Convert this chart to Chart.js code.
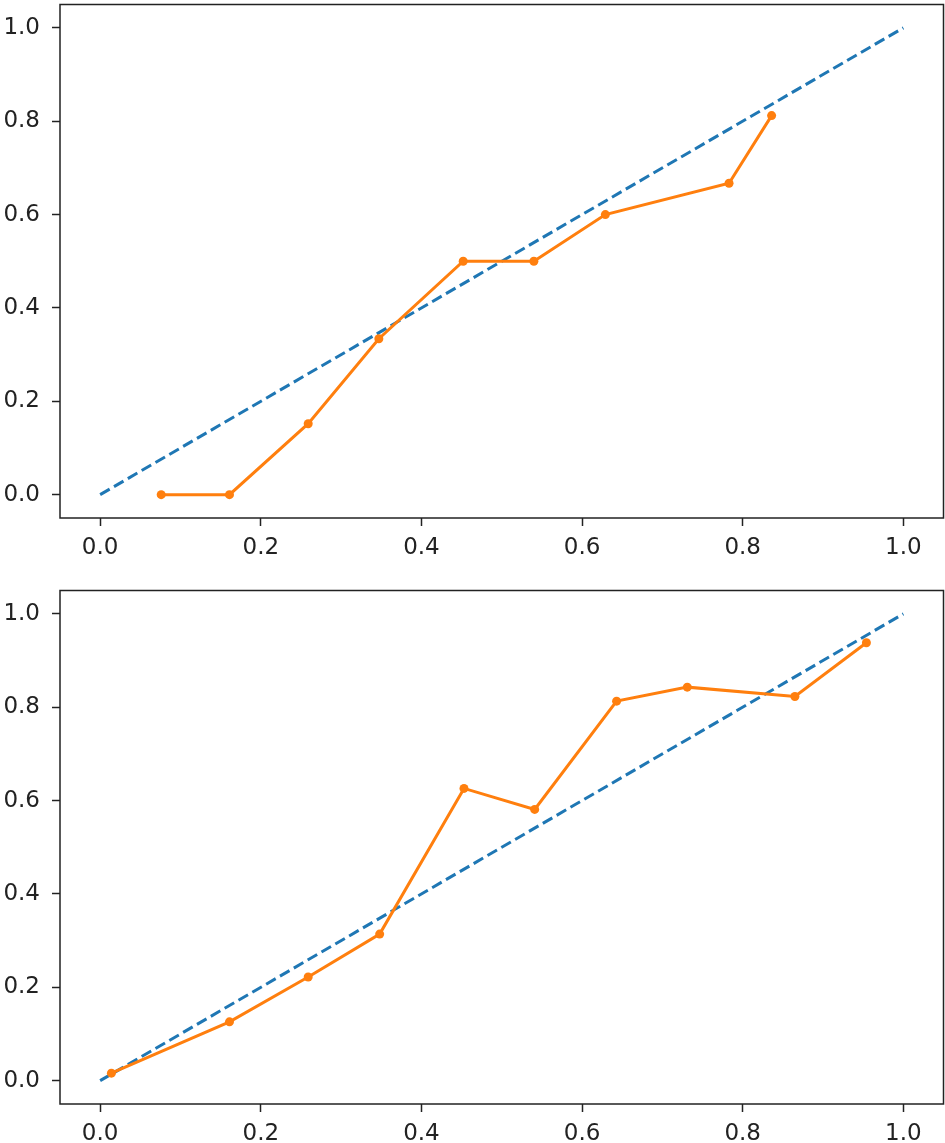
<!DOCTYPE html>
<html>
<head>
<meta charset="utf-8">
<script src="https://cdn.jsdelivr.net/npm/chart.js@4/dist/chart.umd.min.js"></script>
<style>
  html, body { margin: 0; padding: 0; background: #fff; }
  body { width: 945px; height: 1143px; position: relative; overflow: hidden; }
  canvas { position: absolute; left: 0; }
  #topChart { top: 0; }
  #bottomChart { top: 586px; }
</style>
</head>
<body>
<canvas id="topChart" width="948" height="570"></canvas>
<canvas id="bottomChart" width="948" height="557"></canvas>
<script>
// diagonal reference (perfectly calibrated)
var refX = [0, 1];
var refY = [0, 1];

// top panel: mean predicted value vs fraction of positives
var topMeanPred = [0.076, 0.161, 0.259, 0.347, 0.452, 0.540, 0.629, 0.783, 0.836];
var topFracPos  = [0.0, 0.0, 0.152, 0.334, 0.500, 0.500, 0.600, 0.667, 0.812];

// bottom panel
var bottomMeanPred = [0.014, 0.161, 0.259, 0.348, 0.453, 0.541, 0.643, 0.731, 0.865, 0.954];
var bottomFracPos  = [0.016, 0.126, 0.222, 0.314, 0.626, 0.581, 0.813, 0.843, 0.823, 0.938];

// tick labels, same on both axes
var tickValues = [0.0, 0.2, 0.4, 0.6, 0.8, 1.0];

function toPoints(xs, ys) {
    return xs.map(function(x, i) { return { x: x, y: ys[i] }; });
}

// draws the full box around the plot area, like matplotlib spines
var frameBox = {
    id: 'frameBox',
    afterDraw: function(chart) {
        var a = chart.chartArea;
        var ctx = chart.ctx;
        ctx.save();
        ctx.strokeStyle = '#222';
        ctx.lineWidth = 1.5;
        ctx.strokeRect(a.left, a.top, a.right - a.left, a.bottom - a.top);
        ctx.restore();
    }
};

function axisOptions(isX, fixedSize) {
    return {
        type: 'linear',
        min: -0.05,
        max: 1.05,
        afterBuildTicks: function(scale) {
            scale.ticks = tickValues.map(function(v) { return { value: v }; });
        },
        afterFit: function(scale) {
            // labels sit well inside the 5% margins, so no extra edge padding
            scale.paddingTop = 0;
            scale.paddingBottom = 0;
            scale.paddingLeft = 0;
            scale.paddingRight = 0;
            if (isX) scale.height = fixedSize; else scale.width = fixedSize;
        },
        border: { display: false },
        grid: {
            display: true,
            drawOnChartArea: false,
            drawTicks: true,
            tickLength: 8,
            tickWidth: 1.5,
            tickColor: '#222'
        },
        ticks: {
            color: '#222',
            padding: isX ? 8 : 12,
            maxRotation: 0,
            autoSkip: false,
            font: { family: 'DejaVu Sans', size: 23 },
            callback: function(v) { return Number(v).toFixed(1); }
        }
    };
}

function makeChart(id, xs, ys, xAxisHeight) {
    var ctx = document.getElementById(id).getContext('2d');
    return new Chart(ctx, {
        type: 'line',
        data: {
            datasets: [{
                data: toPoints(refX, refY),
                borderColor: '#1f77b4',
                borderWidth: 3,
                borderDash: [11, 5],
                pointRadius: 0,
                fill: false,
                tension: 0,
                order: 1
            }, {
                data: toPoints(xs, ys),
                borderColor: '#ff7f0e',
                backgroundColor: '#ff7f0e',
                borderWidth: 3,
                pointRadius: 4.5,
                pointBorderWidth: 0,
                pointBackgroundColor: '#ff7f0e',
                fill: false,
                tension: 0,
                order: 0
            }]
        },
        options: {
            responsive: false,
            animation: false,
            devicePixelRatio: 1,
            layout: {
                padding: { left: 0, right: 2, top: 1, bottom: 0 }
            },
            scales: {
                x: axisOptions(true, xAxisHeight),
                y: axisOptions(false, 60)
            },
            plugins: {
                legend: { display: false },
                tooltip: { enabled: false }
            }
        },
        plugins: [frameBox]
    });
}

var topChart = makeChart('topChart', topMeanPred, topFracPos, 52);
var bottomChart = makeChart('bottomChart', bottomMeanPred, bottomFracPos, 39);
</script>
</body>
</html>
